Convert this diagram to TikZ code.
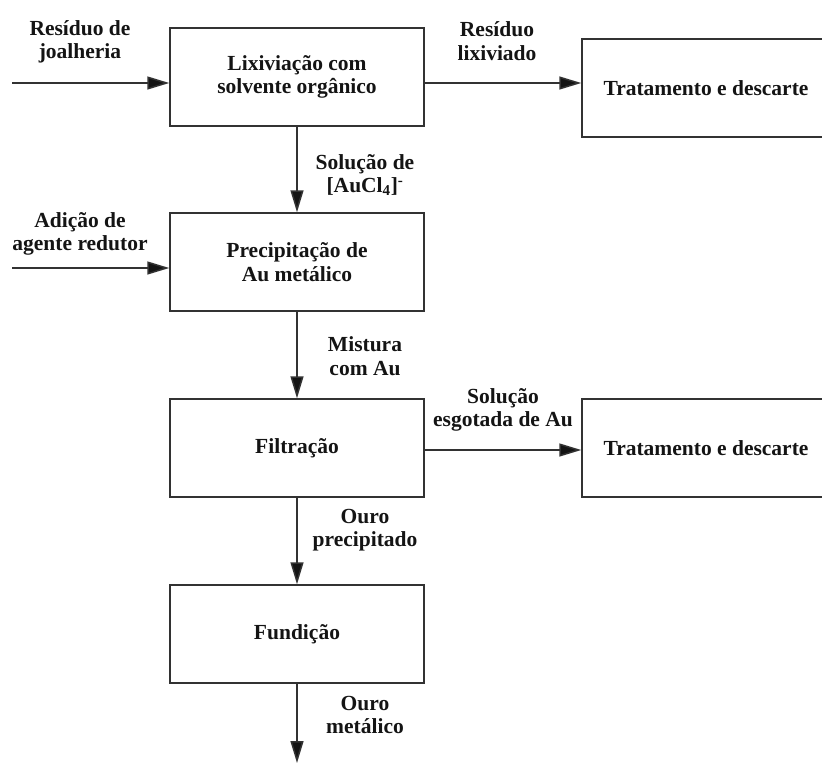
\documentclass[tikz,border=0pt]{standalone}
\usepackage{fontspec}
\setmainfont{Liberation Serif}
\usetikzlibrary{arrows.meta}
\definecolor{linegray}{RGB}{50,50,50}
\definecolor{inkc}{RGB}{20,20,20}
\begin{document}
\begin{tikzpicture}[x=1pt,y=-1pt,
  font=\fontsize{21.5}{23.5}\selectfont\bfseries,
  text=inkc,
  stage/.style={draw=linegray, line width=1.5pt, minimum width=254pt,
    minimum height=98pt, align=center, inner sep=0pt},
  sink/.style={stage, minimum width=248pt},
  lbl/.style={align=center, inner sep=0pt},
  flow/.style={draw=linegray, line width=1.5pt,
    -{Triangle[length=22pt,width=13pt,fill=inkc]}}]
\useasboundingbox (0,0) rectangle (822,763);
\clip (0,0) rectangle (822,763);

% process stages
\node[stage] (lix)  at (297,77)  {Lixiviação com\\solvente orgânico};
\node[stage] (prec) at (297,262) {Precipitação de\\Au metálico};
\node[stage] (filt) at (297,448) {Filtração};
\node[stage] (fund) at (297,634) {Fundição};
\node[sink]  (trat1) at (706,88)  {Tratamento e descarte};
\node[sink]  (trat2) at (706,448) {Tratamento e descarte};

% free ends of the streams
\coordinate (in1) at (12,83);
\coordinate (in2) at (12,268);
\coordinate (s2)  at (0,450);
\coordinate (out) at (297,763);

% streams
\draw[flow] (in1) -- (in1 -| lix.west);
\draw[flow] (lix.east |- in1) -- (in1 -| trat1.west);
\draw[flow] (lix) -- (prec);
\draw[flow] (in2) -- (in2 -| prec.west);
\draw[flow] (prec) -- (filt);
\draw[flow] (filt.east |- s2) -- (s2 -| trat2.west);
\draw[flow] (filt) -- (fund);
\draw[flow] (fund) -- (out);

% stream labels
\node[lbl] (l1) at (80,42)   {Resíduo de\\joalheria};
\node[lbl] (l2) at (497,41)  {Resíduo\\lixiviado};
\node[lbl] (l3) at (365,175) {Solução de\\{}[AuCl\textsubscript{4}]\textsuperscript{-}};
\node[lbl] (l4) at (80,234)  {Adição de\\agente redutor};
\node[lbl] (l5) at (365,356) {Mistura\\com Au};
\node[lbl] (l6) at (503,410) {Solução\\esgotada de Au};
\node[lbl] (l7) at (365,530) {Ouro\\precipitado};
\node[lbl] (l8) at (365,715) {Ouro\\metálico};
\end{tikzpicture}
\end{document}
